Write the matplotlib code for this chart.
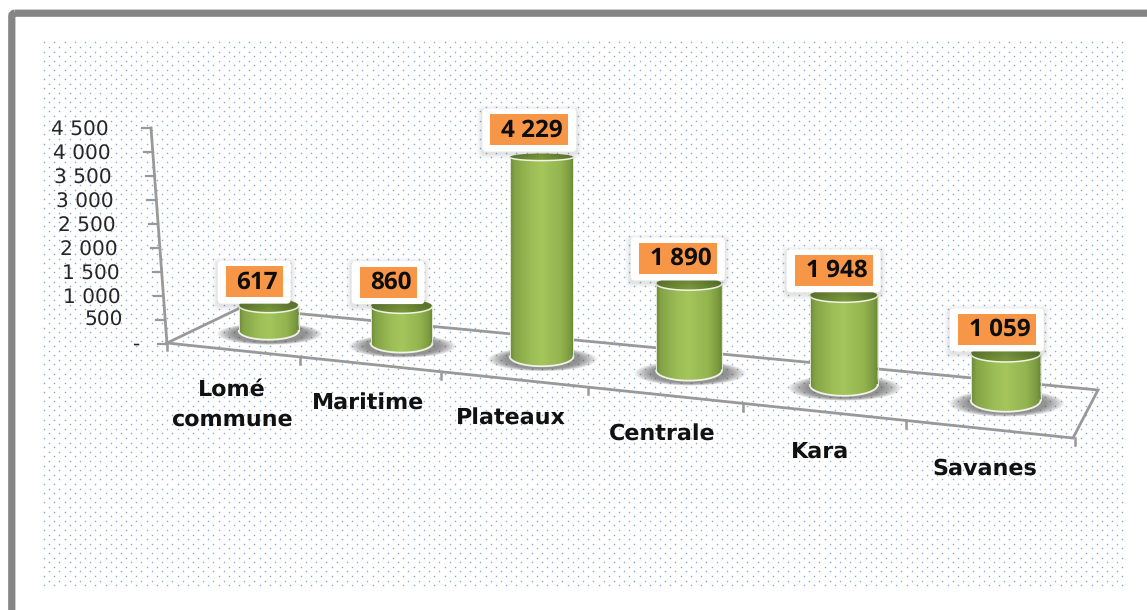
import numpy as np
import matplotlib
matplotlib.use("Agg")
import matplotlib.pyplot as plt
from matplotlib.colors import LinearSegmentedColormap
from matplotlib.patches import Ellipse, FancyBboxPatch, PathPatch, Rectangle
from matplotlib.path import Path

plt.rcParams["text.hinting"] = "no_hinting"

categories = ["Lomé\ncommune", "Maritime", "Plateaux", "Centrale", "Kara", "Savanes"]
values = [617, 860, 4229, 1890, 1948, 1059]
value_labels = ["617", "860", "4 229", "1 890", "1 948", "1 059"]
y_ticks = [0, 500, 1000, 1500, 2000, 2500, 3000, 3500, 4000, 4500]
y_tick_labels = ["-", "500", "1 000", "1 500", "2 000", "2 500", "3 000", "3 500", "4 000", "4 500"]

W, H = 1147, 610
fig = plt.figure(figsize=(W / 100, H / 100), dpi=100, facecolor="white")
ax = fig.add_axes([0, 0, 1, 1])
ax.axis("off")

GRID = "#999999"
cyl_cmap = LinearSegmentedColormap.from_list(
    "cyl", [(0, "#6c8a38"), (0.07, "#84a346"), (0.33, "#9cbe56"), (0.5, "#a4c65c"),
            (0.8, "#93b34f"), (0.94, "#7b9b40"), (1, "#698735")])
top_cmap = LinearSegmentedColormap.from_list(
    "top", [(0, "#5f7a2c"), (0.5, "#7c9a3a"), (1, "#5a752a")])


# perspective mapping of the floor: u = position along the category axis
def front_x(u):
    return 167 + 129.5 * u + 3.65 * u ** 2


def front_y(x):
    return 343 + 0.105 * (x - 167)


def cyl_x(u):
    return front_x(u) + 36 - 4 * (u - 0.5)


def cyl_y(u):
    return front_y(front_x(u)) - 19 - 2 * (u - 0.5)


def height_px(v):
    return 0.0482 * v - 4.5


def y_axis_y(v):
    return 344 - 216 * v / 4500


def y_axis_x(v):
    return 167 - 16 * v / 4500


# dotted background
rows = np.arange(42.3, 586, 4.6)
dx, dy = [], []
for r, yy in enumerate(rows):
    xs = np.arange(44 + (5 if r % 2 else 0), 1125, 10.27)
    dx.extend(xs)
    dy.extend([yy] * len(xs))
ax.scatter(dx, dy, s=1.25, c="#84aae0", linewidths=0, zorder=1)

# outer frame, running off the right and bottom edges
ax.add_patch(FancyBboxPatch((11.8, 13.2), 1300, 800, boxstyle="round,pad=0,rounding_size=3",
                            fc="none", ec="#858585", lw=5.2, zorder=2))

# floor
ax.plot([167, 240, 1098, 1073, 167], [343, 308, 390, 438, 343], color=GRID, lw=2.0,
        solid_joinstyle="miter", zorder=3)
# vertical axis
ax.plot([y_axis_x(y_ticks[-1]), y_axis_x(0)], [y_axis_y(y_ticks[-1]), y_axis_y(0)],
        color=GRID, lw=2.0, zorder=3)
for v, lab in zip(y_ticks, y_tick_labels):
    ax.plot([y_axis_x(v) - 9, y_axis_x(v)], [y_axis_y(v), y_axis_y(v)], color=GRID, lw=1.6, zorder=3)
    pad = 28 if lab == "-" else 42.5
    ax.text(y_axis_x(v) - pad, y_axis_y(v) + (2 if v > 500 else 0.5), lab, ha="right", va="center",
            fontsize=14.5, family="DejaVu Sans", color="#262626", zorder=4)

# category ticks and labels
for i in range(len(categories) + 1):
    x = front_x(i)
    ax.plot([x, x], [front_y(x), front_y(x) + 7], color=GRID, lw=1.8, zorder=3)
for i, cat in enumerate(categories):
    u = i + 0.5
    x = front_x(u)
    ax.text(x - 0.9 * u, front_y(x) + 29, cat, ha="center", va="top", fontsize=16, fontweight="bold",
            family="DejaVu Sans", color="#111111", linespacing=1.5, zorder=4)

# cylinders
for i, v in enumerate(values):
    u = i + 0.5
    cx, by = cyl_x(u), cyl_y(u)
    h = height_px(v)
    ty = by - h
    rx = 29.4 + 1.0 * u
    ry_b = 8.6 + 0.5 * u
    ry_t = 3.5 + (ty - 155) * 0.0233

    # soft floor shadow
    for k in np.linspace(1, 0.6, 26):
        ax.add_patch(Ellipse((cx + 1, by + 3), 2 * (rx + 23) * k + 20 * (1 - k), 2 * (ry_b + 2) * k + 12 * (1 - k),
                             fc="#5a5a5a", ec="none", alpha=0.035, zorder=5))

    t = np.linspace(np.pi, 0, 60)
    arc_x = cx + rx * np.cos(t)
    arc_low = by + ry_b * np.sin(t)
    arc_top = ty + ry_t * np.sin(t)
    verts = np.r_[np.c_[arc_x, arc_low], np.c_[arc_x[::-1], arc_top[::-1]]]
    body = PathPatch(Path(np.r_[verts, verts[:1]]), fc="none", ec="none", zorder=6)
    ax.add_patch(body)
    im = ax.imshow(np.linspace(0, 1, 128)[None, :], cmap=cyl_cmap, aspect="auto",
                   extent=(cx - rx, cx + rx, by + ry_b, ty - ry_t), zorder=6)
    im.set_clip_path(body)

    lid = Ellipse((cx, ty), 2 * rx, 2 * ry_t, fc="none", ec="none", zorder=7)
    ax.add_patch(lid)
    im2 = ax.imshow(np.linspace(0, 1, 64)[None, :], cmap=top_cmap, aspect="auto",
                    extent=(cx - rx, cx + rx, ty + ry_t, ty - ry_t), zorder=7)
    im2.set_clip_path(lid)

    # pale rims
    ax.plot(arc_x, arc_top, color="#f1f4e6", lw=1.1, zorder=8)
    ax.plot(arc_x, arc_low, color="#f1f3e8", lw=1.3, zorder=8)
    ax.plot([cx - rx, cx - rx], [ty, by], color="#e3e8d4", lw=0.7, zorder=8)
    ax.plot([cx + rx, cx + rx], [ty, by], color="#e3e8d4", lw=0.7, zorder=8)

    # data label callout
    lx = cx - 15 + 1.1 * u
    ly = ty - 23.5 - 0.02 * h
    w = 57 if len(value_labels[i]) <= 3 else 78
    for grow, a in [(6, 0.02), (4.5, 0.03), (3, 0.04), (1.5, 0.05)]:
        ax.add_patch(FancyBboxPatch((lx - w / 2 - 8 - grow, ly - 21 - grow + 2), w + 16 + 2 * grow, 43 + 2 * grow,
                                    boxstyle="round,pad=0,rounding_size=5", fc="#404040", ec="none",
                                    alpha=a, zorder=9))
    ax.add_patch(FancyBboxPatch((lx - w / 2 - 8, ly - 21), w + 16, 43,
                                boxstyle="round,pad=0,rounding_size=4", fc="white", ec="none", zorder=10))
    ax.add_patch(Rectangle((lx - w / 2, ly - 15.5), w, 31, fc="#f79646", ec="none", zorder=11))
    ax.text(lx + 3, ly + 0.5, value_labels[i], ha="center", va="center", fontsize=17.5, fontweight="bold",
            family="Open Sans", color="#0d0d0d", zorder=12)

ax.set_xlim(0, W)
ax.set_ylim(H, 0)
fig.savefig("out.png", dpi=100, facecolor="white")
